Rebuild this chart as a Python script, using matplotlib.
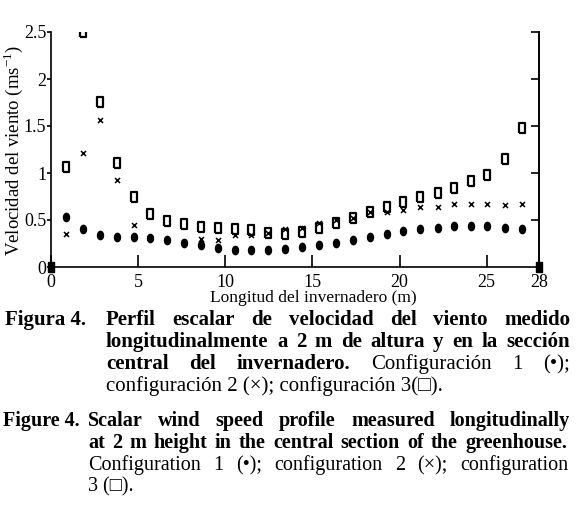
import numpy as np
import matplotlib
matplotlib.use("Agg")
import matplotlib.pyplot as plt
from matplotlib.transforms import IdentityTransform

# distance along the greenhouse (m) and wind speed (m/s) for the 3 configurations
x_pos = [0.88, 1.83, 2.79, 3.77, 4.74, 5.70, 6.64, 7.62, 8.62, 9.57, 10.53, 11.48,
         12.44, 13.45, 14.41, 15.40, 16.36, 17.31, 18.30, 19.26, 20.21, 21.19,
         22.18, 23.13, 24.09, 25.04, 26.04, 27.01]
conf1 = [0.535, 0.40, 0.34, 0.32, 0.315, 0.305, 0.29, 0.26, 0.235, 0.20, 0.185, 0.18,
         0.18, 0.19, 0.21, 0.235, 0.26, 0.29, 0.315, 0.35, 0.385, 0.405,
         0.42, 0.44, 0.44, 0.44, 0.42, 0.405]
conf2 = [0.35, 1.21, 1.56, 0.925, 0.45, 0.31, 0.29, 0.27, 0.30, 0.29, 0.34, 0.34,
         0.36, 0.40, 0.42, 0.47, 0.50, 0.525, 0.59, 0.58, 0.61, 0.64,
         0.64, 0.67, 0.67, 0.67, 0.66, 0.67]
conf3 = [1.06, 2.50, 1.76, 1.11, 0.74, 0.565, 0.49, 0.46, 0.43, 0.42, 0.40, 0.39,
         0.365, 0.35, 0.375, 0.41, 0.465, 0.52, 0.58, 0.64, 0.69, 0.74,
         0.79, 0.84, 0.91, 0.98, 1.15, 1.475]
# wall points (all configurations)
wall_x = [0, 28]
wall_v = [0, 0]

xticks = [0, 5, 10, 15, 20, 25, 28]
yticks = [0, 0.5, 1, 1.5, 2, 2.5]
ytick_labels = ["0", "0.5", "1", "1.5", "2", "2.5"]

SERIF = ["Liberation Serif", "DejaVu Serif"]
plt.rcParams["font.family"] = SERIF
plt.rcParams["mathtext.fontset"] = "custom"
plt.rcParams["mathtext.rm"] = "Liberation Serif"

# tall rectangle / ellipse markers (the scan is stretched vertically)
rect = [(-0.32, -0.5), (0.32, -0.5), (0.32, 0.5), (-0.32, 0.5), (-0.32, -0.5)]
t = np.linspace(0, 2*np.pi, 30)
ell = list(zip(0.36*np.cos(t), 0.5*np.sin(t)))
block = [(-0.28, -0.5), (0.28, -0.5), (0.28, 0.5), (-0.28, 0.5), (-0.28, -0.5)]

W, H = 580, 523
fig = plt.figure(figsize=(W/100, H/100), dpi=100)
ax = fig.add_axes([51/W, 1-267/H, (539-51)/W, (267-32)/H])

ax.plot(x_pos, conf3, ls="none", marker=rect, ms=7.5, mfc="none", mec="black", mew=1.6)
ax.plot(x_pos, conf2, ls="none", marker="x", ms=3.6, mec="black", mew=1.1)
ax.plot(x_pos, conf1, ls="none", marker=ell, ms=6, mfc="black", mec="black")
ax.plot(wall_x, wall_v, ls="none", marker=block, ms=7.5, mfc="black", mec="black",
        clip_on=False, zorder=5)

ax.set_xlim(0, 28)
ax.set_ylim(0, 2.5)
ax.spines["top"].set_visible(False)
for s in ["left", "right", "bottom"]:
    ax.spines[s].set_linewidth(1.2)

ax.set_xticks(xticks)
ax.set_xticklabels([str(v) for v in xticks])
ax.set_yticks(yticks)
ax.set_yticklabels(ytick_labels)
ax.tick_params(axis="x", direction="in", length=9, width=1.2, pad=5, labelsize=13)
ax.tick_params(axis="y", direction="out", length=3, width=1.2, pad=0.5, labelsize=13,
               right=False)

sec = ax.secondary_yaxis("right")
sec.set_yticks(yticks[1:])
sec.tick_params(direction="in", length=6, width=1.2, labelright=False)
sec.spines["right"].set_linewidth(1.2)

ax.set_xlabel("Longitud del invernadero (m)", fontsize=12.5)
ax.xaxis.set_label_coords(0.538, -0.097)
ax.set_ylabel("Velocidad del viento (ms$^{-1}$)", fontsize=13.5)
ax.yaxis.label.set_verticalalignment("center")
ax.yaxis.set_label_coords(-0.077, 0.494)

# caption, justified like the journal layout
renderer = fig.canvas.get_renderer()


def cap_text(x, y, s, weight="normal", size=14.5):
    return fig.text(x, H - y, s, fontsize=size, fontweight=weight, family=SERIF,
                    transform=IdentityTransform(), ha="left", va="baseline")


def justify(parts, y, x0, x1, size=14.5):
    texts = [cap_text(0, y, w, wt, size) for w, wt in parts]
    widths = [tx.get_window_extent(renderer).width for tx in texts]
    gap = (x1 - x0 - sum(widths)) / (len(texts) - 1)
    if gap < 4:
        # too long for the column: shrink the type a little
        for tx in texts:
            tx.remove()
        return justify(parts, y, x0, x1, size - 0.25)
    x = x0
    for tx, w in zip(texts, widths):
        tx.set_x(x)
        x += w + gap


def words(s, weight):
    return [(w, weight) for w in s.split()]


R = 570
cap_text(5, 325, "Figura 4.", "bold", 15)
justify(words("Perfil escalar de velocidad del viento medido", "bold"), 325, 106, R, 15)
justify(words("longitudinalmente a 2 m de altura y en la sección", "bold"), 347, 106, R, 15)
justify(words("central del invernadero.", "bold") + words("Configuración 1 (•);", "normal"),
        369, 106, R, 15)
cap_text(106, 391, "configuración 2 (×); configuración 3(□).", size=15)

cap_text(3, 426, "Figure 4.", "bold")
justify(words("Scalar wind speed profile measured longitudinally", "bold"), 426, 88, R)
justify(words("at 2 m height in the central section of the greenhouse.", "bold"), 448, 88, 567)
justify(words("Configuration 1 (•); configuration 2 (×); configuration", "normal"), 470, 88, 568)
cap_text(88, 491, "3 (□).")

fig.savefig("out.png", dpi=100)
